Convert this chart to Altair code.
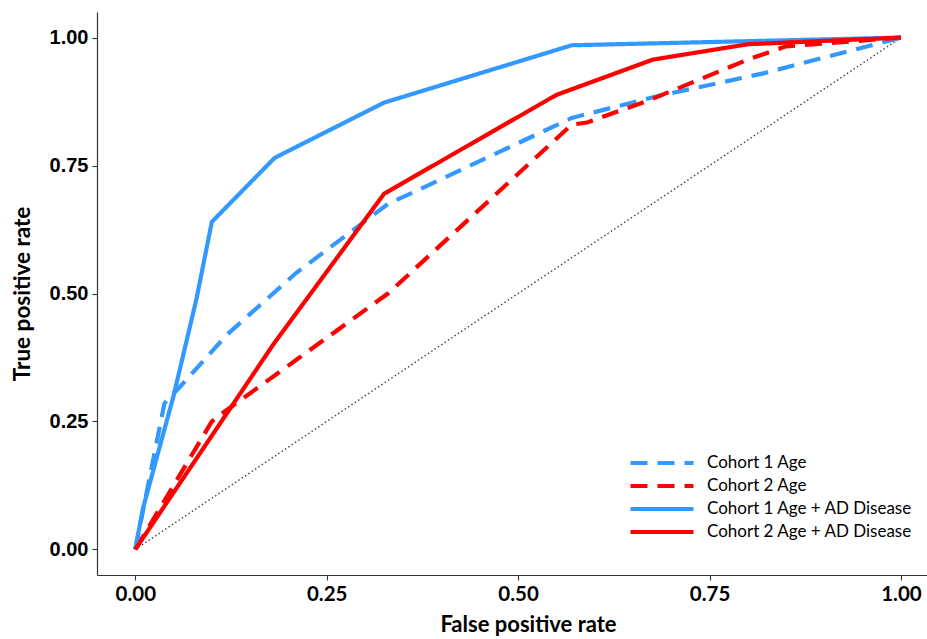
import altair as alt
import pandas as pd

series_names = [
    "Cohort 1 Age",
    "Cohort 2 Age",
    "Cohort 1 Age + AD Disease",
    "Cohort 2 Age + AD Disease",
]
series_colors = ["#3399FF", "#FF0000", "#3399FF", "#FF0000"]

c1_age_fpr = [0.0, 0.038, 0.046, 0.055, 0.12, 0.21, 0.33, 0.362, 0.57, 0.68, 0.82, 1.0]
c1_age_tpr = [0.0, 0.285, 0.30, 0.312, 0.42, 0.54, 0.675, 0.697, 0.843, 0.885, 0.93, 1.0]

c2_age_fpr = [0.0, 0.10, 0.11, 0.21, 0.33, 0.57, 0.59, 0.67, 0.80, 0.85, 1.0]
c2_age_tpr = [0.0, 0.25, 0.262, 0.37, 0.50, 0.83, 0.834, 0.877, 0.957, 0.983, 1.0]

c1_ad_fpr = [0.0, 0.01, 0.05, 0.08, 0.10, 0.182, 0.325, 0.57, 1.0]
c1_ad_tpr = [0.0, 0.08, 0.30, 0.49, 0.64, 0.765, 0.873, 0.985, 1.0]

c2_ad_fpr = [0.0, 0.18, 0.325, 0.55, 0.676, 0.80, 1.0]
c2_ad_tpr = [0.0, 0.40, 0.695, 0.888, 0.957, 0.987, 1.0]

diag_fpr = [0.0, 1.0]
diag_tpr = [0.0, 1.0]

tick_values = [0.0, 0.25, 0.5, 0.75, 1.0]

rows = []
for name, xs, ys in zip(
    series_names,
    [c1_age_fpr, c2_age_fpr, c1_ad_fpr, c2_ad_fpr],
    [c1_age_tpr, c2_age_tpr, c1_ad_tpr, c2_ad_tpr],
):
    for i, (x, y) in enumerate(zip(xs, ys)):
        rows.append({"series": name, "fpr": x, "tpr": y, "idx": i})
df = pd.DataFrame(rows)
diag_df = pd.DataFrame({"fpr": diag_fpr, "tpr": diag_tpr})

x_scale = alt.Scale(domain=[-0.05, 1.034], nice=False, zero=False)
y_scale = alt.Scale(domain=[-0.05, 1.05], nice=False, zero=False)

x_axis = alt.Axis(
    values=tick_values, format=".2f", title="False positive rate",
    labelFont="Lato", labelFontWeight="bold", labelFontSize=20.5, labelColor="#000000",
    labelPadding=4, titleFont="Lato", titleFontWeight="bold", titleFontSize=22,
    titleColor="#000000", titlePadding=10, titleX=431,
)
y_axis = alt.Axis(
    values=tick_values, format=".2f", title="True positive rate",
    labelFont="Liberation Sans", labelFontWeight="bold", labelFontSize=20,
    labelColor="#000000", labelPadding=4, titleFont="Lato", titleFontWeight="bold",
    titleFontSize=22.5, titleColor="#000000", titlePadding=15,
)

diag = alt.Chart(diag_df).mark_line(
    color="#444444", strokeWidth=1.4, strokeDash=[1.5, 2.5]
).encode(
    x=alt.X("fpr:Q", scale=x_scale, axis=x_axis),
    y=alt.Y("tpr:Q", scale=y_scale, axis=y_axis),
)

lines = alt.Chart(df).mark_line(strokeWidth=4.2, strokeCap="butt").encode(
    x=alt.X("fpr:Q", scale=x_scale, axis=x_axis),
    y=alt.Y("tpr:Q", scale=y_scale, axis=y_axis),
    order="idx:Q",
    color=alt.Color(
        "series:N",
        scale=alt.Scale(domain=series_names, range=series_colors),
        legend=alt.Legend(
            title=None, orient="none", legendX=554, legendY=440,
            symbolType="M-3.5,0H3.5", symbolSize=324, symbolStrokeWidth=4,
            labelFont="Lato", labelFontSize=17, labelColor="#000000",
            labelOffset=34, rowPadding=4, padding=0, labelLimit=400,
        ),
    ),
    strokeDash=alt.StrokeDash(
        "series:N",
        scale=alt.Scale(domain=series_names, range=[[17, 10], [17, 10], [1, 0], [1, 0]]),
        legend=None,
    ),
)

chart = alt.layer(diag, lines).properties(
    width=830, height=563,
    padding={"left": 97, "top": 12, "right": 0, "bottom": 64},
    autosize=alt.AutoSizeParams(type="none"),
).configure_view(stroke=None).configure_axis(
    grid=False, domainColor="#333333", domainWidth=1.2, tickColor="#333333",
    tickSize=5, tickWidth=1.1,
)

chart.save("out.html", embed_options={"renderer": "svg", "actions": False})
